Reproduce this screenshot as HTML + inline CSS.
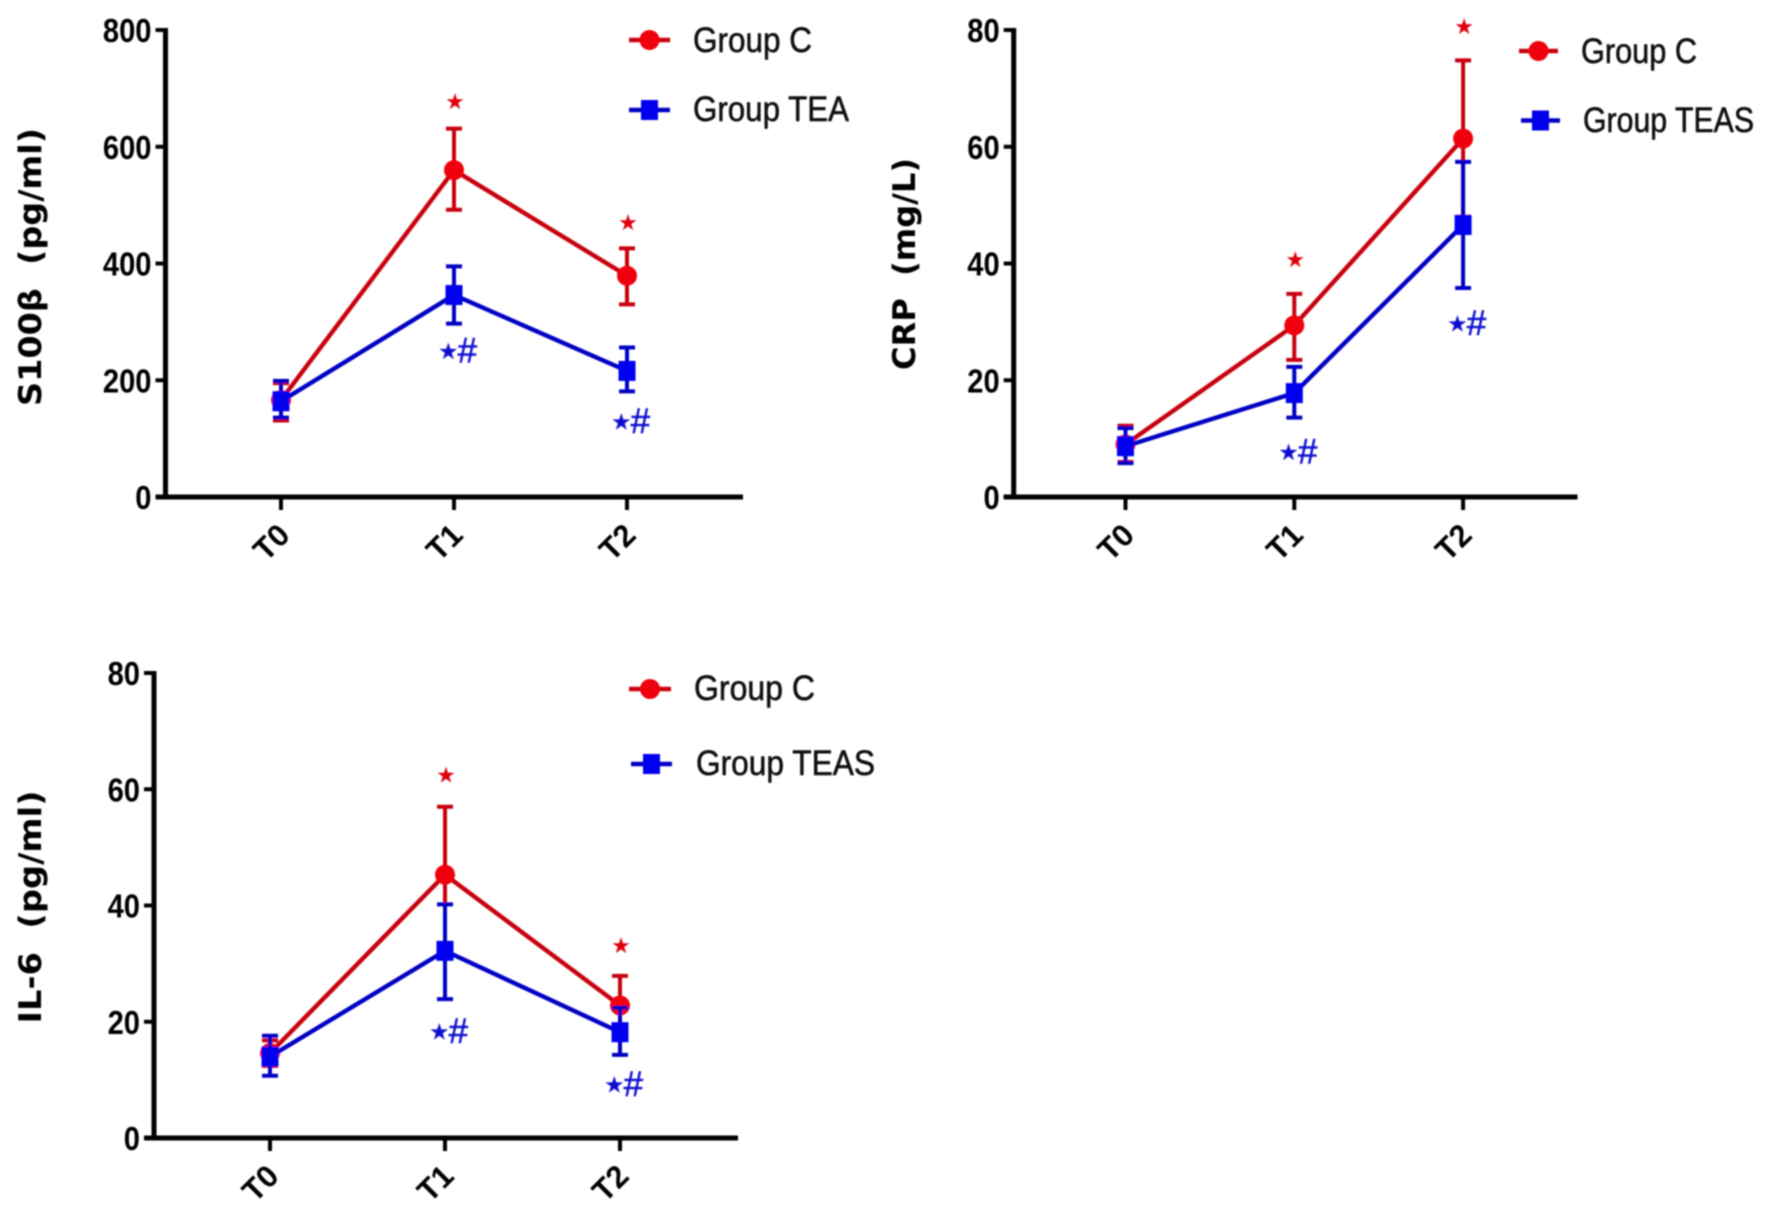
<!DOCTYPE html>
<html lang="en">
<head>
<meta charset="utf-8">
<title>S100β, CRP and IL-6 by group</title>
<style>
  html, body { margin: 0; padding: 0; background: #fff; }
  #figure { display: block; width: 1772px; height: 1213px; }
  text { white-space: pre; }
</style>
</head>
<body>
<svg id="figure" xmlns="http://www.w3.org/2000/svg" width="1772" height="1213" viewBox="0 0 1772 1213">
  <defs>
    <filter id="soft" x="-5%" y="-5%" width="110%" height="110%"><feGaussianBlur stdDeviation="0.8"/></filter>
  </defs>
  <g id="root" filter="url(#soft)"></g>
</svg>
<script>
const categories = ['T0', 'T1', 'T2'];

const s100Ticks = [0, 200, 400, 600, 800];
const s100CMean = [166, 560, 379];
const s100CUpper = [195, 631, 426];
const s100CLower = [131, 492, 330];
const s100TMean = [164, 346, 216];
const s100TUpper = [199, 395, 256];
const s100TLower = [136, 297, 181];
const s100CMarks = [null, 678, 471];
const s100TMarks = [null, 253, 132];

const crpTicks = [0, 20, 40, 60, 80];
const crpCMean = [9, 29.4, 61.4];
const crpCUpper = [12.2, 34.8, 74.8];
const crpCLower = [6, 23.5, 48];
const crpTMean = [8.7, 17.8, 46.6];
const crpTUpper = [11.8, 22.3, 57.4];
const crpTLower = [5.8, 13.6, 35.8];
const crpCMarks = [null, 40.8, 80.7];
const crpTMarks = [null, 8, 30];

const il6Ticks = [0, 20, 40, 60, 80];
const il6CMean = [14.6, 45.3, 22.8];
const il6CUpper = [16.8, 57, 27.9];
const il6CLower = [12.4, 33.5, 18];
const il6TMean = [14, 32.2, 18.2];
const il6TUpper = [17.6, 40.2, 22.4];
const il6TLower = [10.7, 23.9, 14.3];
const il6CMarks = [null, 62.5, 33.2];
const il6TMarks = [null, 18.6, 9.5];

const RED_LINE = '#c8000c';
const RED_MARK = '#f00008';
const BLUE_LINE = '#0000c4';
const BLUE_MARK = '#0000ee';
const INK = '#050505';
const SVGNS = 'http://www.w3.org/2000/svg';
const root = document.getElementById('root');

function make(parent, tag, attrs, content) {
  const el = document.createElementNS(SVGNS, tag);
  for (const k in attrs) el.setAttribute(k, attrs[k]);
  if (content !== undefined) el.textContent = content;
  parent.appendChild(el);
  return el;
}

function drawSeries(g, s, xScale, yScale, prefix) {
  const pts = s.mean.map((v, i) => xScale(i) + ',' + yScale(v)).join(' ');
  const line = make(g, 'polyline', { points: pts, fill: 'none', stroke: s.line, 'stroke-width': 4.4 });
  
  
  s.mean.forEach((v, i) => {
    const x = xScale(i);
    const bar = make(g, 'path', {
      d: 'M' + x + ' ' + yScale(s.upper[i]) + 'V' + yScale(s.lower[i]) +
         'M' + (x - 8) + ' ' + yScale(s.upper[i]) + 'H' + (x + 8) +
         'M' + (x - 8) + ' ' + yScale(s.lower[i]) + 'H' + (x + 8),
      fill: 'none', stroke: s.line, 'stroke-width': 4
    });
    
    
    let mark;
    if (s.shape === 'circle') {
      mark = make(g, 'circle', { cx: x, cy: yScale(v), r: 10, fill: s.mark });
    } else {
      mark = make(g, 'rect', { x: x - 8.5, y: yScale(v) - 10, width: 17, height: 20, fill: s.mark });
    }
    
    
  });
}

function drawChart(c) {
  const g = make(root, 'g', {});
  
  

  const yMax = c.ticks[c.ticks.length - 1];
  const yScale = v => c.y0 - (v / yMax) * (c.y0 - c.yTop);
  const xScale = i => c.x0 + i * c.xStep;

  const axes = make(g, 'path', {
    d: 'M' + c.axisX + ' ' + (c.yTop - 2) + 'V' + (c.y0 + 2) + 'M' + (c.axisX - 10) + ' ' + c.y0 + 'H' + c.axisEnd,
    fill: 'none', stroke: INK, 'stroke-width': 5
  });
  
  

  c.ticks.forEach(t => {
    const y = yScale(t);
    const tick = make(g, 'line', { x1: c.axisX - 10, x2: c.axisX, y1: y, y2: y, stroke: INK, 'stroke-width': 4 });
    
    
    const s = String(t);
    const label = make(g, 'text', {
      x: c.axisX - 14, y: y + 12, 'text-anchor': 'end', fill: INK,
      'font-family': '"Liberation Sans", sans-serif', 'font-weight': 'bold', 'font-size': 33,
      textLength: s.length * 16.2, lengthAdjust: 'spacingAndGlyphs'
    }, s);
    
    
  });

  categories.forEach((cat, i) => {
    const x = xScale(i);
    const tick = make(g, 'line', { x1: x, x2: x, y1: c.y0, y2: c.y0 + 13, stroke: INK, 'stroke-width': 4 });
    
    
    const lx = x - 10, ly = c.y0 + 45;
    const label = make(g, 'text', {
      x: lx, y: ly + 11, 'text-anchor': 'middle', fill: INK,
      'font-family': '"Liberation Sans", sans-serif', 'font-weight': 'bold', 'font-size': 31,
      transform: 'rotate(-45 ' + lx + ' ' + ly + ')'
    }, cat);
    
    
  });

  const t = c.title;
  const title = make(g, 'text', {
    x: t.x, y: t.y, 'text-anchor': 'middle', fill: INK,
    'font-family': '"DejaVu Sans", sans-serif', 'font-weight': 'bold', 'font-size': 31,
    textLength: t.len, lengthAdjust: 'spacingAndGlyphs',
    transform: 'rotate(-90 ' + t.x + ' ' + t.y + ')'
  }, t.text);
  
  

  drawSeries(g, { mean: c.cMean, upper: c.cUpper, lower: c.cLower, line: RED_LINE, mark: RED_MARK, shape: 'circle' }, xScale, yScale, c.name + '-group-c');
  drawSeries(g, { mean: c.tMean, upper: c.tUpper, lower: c.tLower, line: BLUE_LINE, mark: BLUE_MARK, shape: 'square' }, xScale, yScale, c.name + '-group-tea');

  c.cMarks.forEach((v, i) => {
    if (v === null) return;
    const star = make(g, 'text', {
      x: xScale(i) + 1, y: yScale(v) + 8, 'text-anchor': 'middle', fill: '#e0000c',
      'font-family': '"DejaVu Sans", sans-serif', 'font-size': 22
    }, '★');
    
    
  });
  c.tMarks.forEach((v, i) => {
    if (v === null) return;
    const mark = make(g, 'text', {
      x: xScale(i) + 5, y: yScale(v) + 13, 'text-anchor': 'middle', fill: '#0808d0',
      'font-family': '"Liberation Sans", sans-serif', 'font-size': 35, stroke: '#0808d0', 'stroke-width': 0.5
    });
    
    
    make(mark, 'tspan', { 'font-family': '"DejaVu Sans", sans-serif', 'font-size': 21, dy: -4, dx: -1 }, '★');
    make(mark, 'tspan', { dy: 4, dx: 0 }, '#');
  });

  c.legend.forEach(e => {
    const entry = make(g, 'g', {});
    
    
    const circle = e.shape === 'circle';
    make(entry, 'line', { x1: e.x1, x2: e.x2, y1: e.y, y2: e.y, stroke: circle ? RED_LINE : BLUE_LINE, 'stroke-width': 4.4 });
    const mx = (e.x1 + e.x2) / 2;
    if (circle) {
      make(entry, 'circle', { cx: mx, cy: e.y, r: 10, fill: RED_MARK });
    } else {
      make(entry, 'rect', { x: mx - 8.5, y: e.y - 10, width: 17, height: 20, fill: BLUE_MARK });
    }
    make(entry, 'text', {
      x: e.tx, y: e.ty, fill: '#080808', stroke: '#080808', 'stroke-width': 0.5,
      'font-family': '"Liberation Sans", sans-serif', 'font-size': 35,
      textLength: e.tw, lengthAdjust: 'spacingAndGlyphs'
    }, e.label);
  });
}

drawChart({
  name: 's100b', ticks: s100Ticks,
  cMean: s100CMean, cUpper: s100CUpper, cLower: s100CLower, cMarks: s100CMarks,
  tMean: s100TMean, tUpper: s100TUpper, tLower: s100TLower, tMarks: s100TMarks,
  axisX: 165.5, axisEnd: 743, yTop: 30, y0: 497, x0: 281, xStep: 173,
  title: { text: 'S100β  (pg/ml)', x: 41, y: 267, len: 278 },
  legend: [
    { label: 'Group C', shape: 'circle', x1: 629, x2: 670, y: 40, tx: 693, ty: 52, tw: 119 },
    { label: 'Group TEA', shape: 'square', x1: 629, x2: 670, y: 110, tx: 693, ty: 121, tw: 156 }
  ]
});

drawChart({
  name: 'crp', ticks: crpTicks,
  cMean: crpCMean, cUpper: crpCUpper, cLower: crpCLower, cMarks: crpCMarks,
  tMean: crpTMean, tUpper: crpTUpper, tLower: crpTLower, tMarks: crpTMarks,
  axisX: 1013.7, axisEnd: 1577.5, yTop: 30, y0: 497, x0: 1125.5, xStep: 168.8,
  title: { text: 'CRP  (mg/L)', x: 915, y: 264, len: 212 },
  legend: [
    { label: 'Group C', shape: 'circle', x1: 1519, x2: 1558, y: 51, tx: 1581, ty: 63, tw: 116 },
    { label: 'Group TEAS', shape: 'square', x1: 1521, x2: 1560, y: 120.5, tx: 1583, ty: 132, tw: 171 }
  ]
});

drawChart({
  name: 'il6', ticks: il6Ticks,
  cMean: il6CMean, cUpper: il6CUpper, cLower: il6CLower, cMarks: il6CMarks,
  tMean: il6TMean, tUpper: il6TUpper, tLower: il6TLower, tMarks: il6TMarks,
  axisX: 154, axisEnd: 738, yTop: 673, y0: 1138, x0: 270, xStep: 175,
  title: { text: 'IL-6  (pg/ml)', x: 41, y: 907, len: 233 },
  legend: [
    { label: 'Group C', shape: 'circle', x1: 629, x2: 671, y: 689, tx: 694, ty: 700, tw: 121 },
    { label: 'Group TEAS', shape: 'square', x1: 631, x2: 672, y: 764, tx: 696, ty: 775, tw: 179 }
  ]
});
</script>
</body>
</html>
